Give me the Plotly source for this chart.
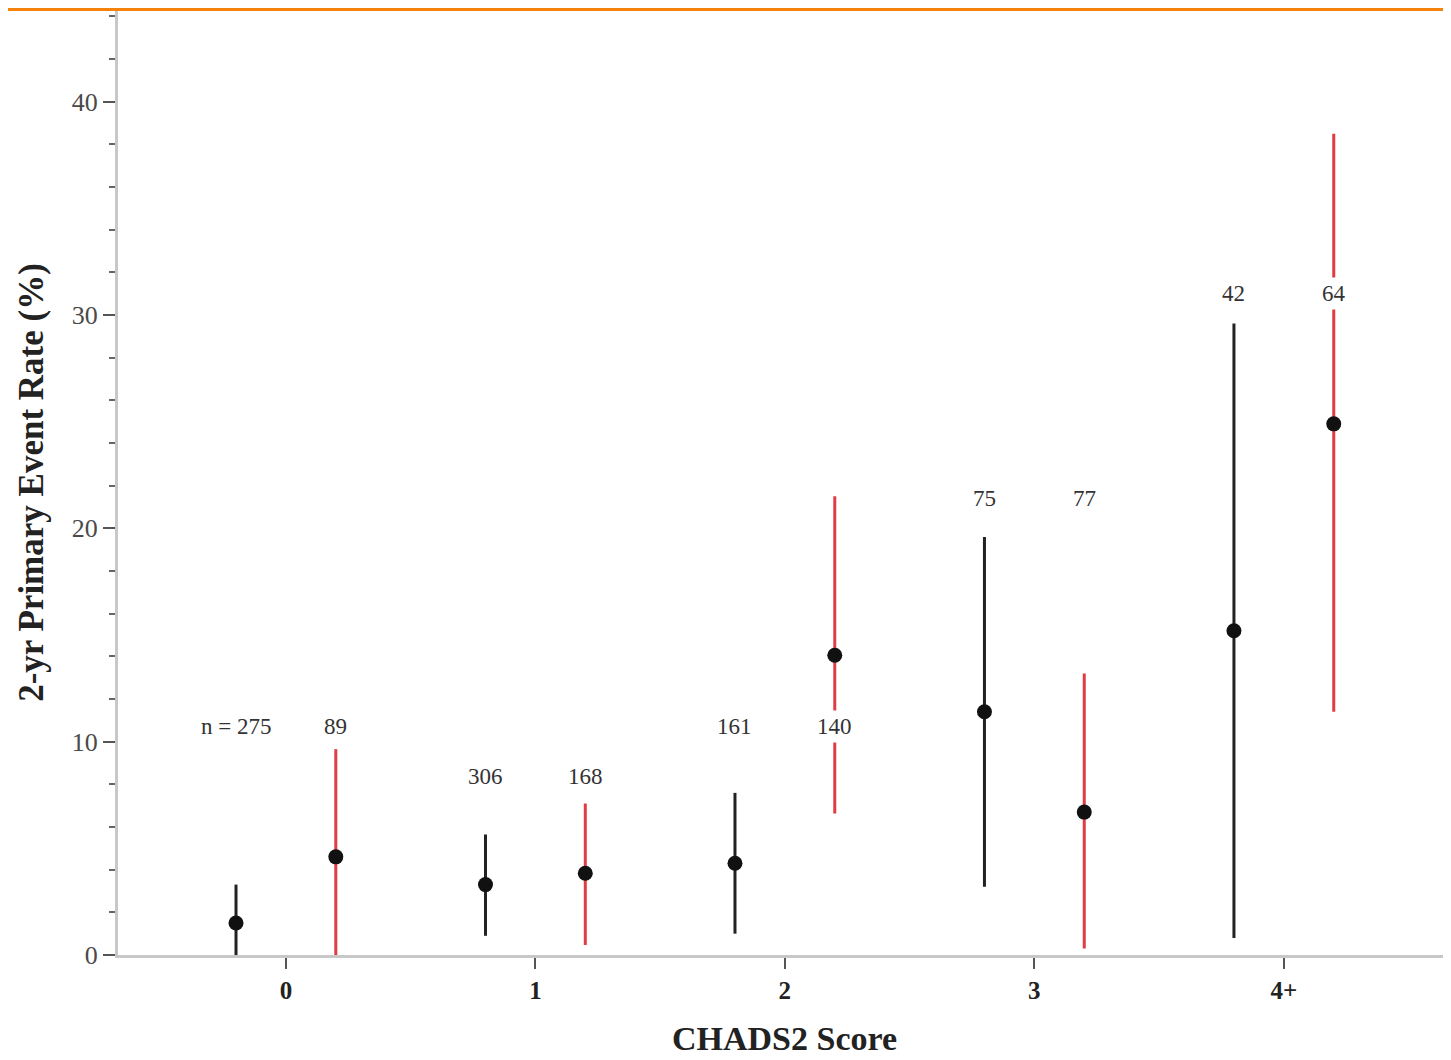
import plotly.graph_objects as go

categories = ["0", "1", "2", "3", "4+"]

black_rate = [1.5, 3.3, 4.3, 11.4, 15.2]
black_lo = [0.0, 0.9, 1.0, 3.2, 0.8]
black_hi = [3.3, 5.65, 7.6, 19.6, 29.6]
black_n = ["n = 275", "306", "161", "75", "42"]

red_rate = [4.6, 3.83, 14.05, 6.7, 24.9]
red_lo = [0.0, 0.47, 6.63, 0.3, 11.4]
red_hi = [9.65, 7.1, 21.5, 13.2, 38.5]
red_n = ["89", "168", "140", "77", "64"]

n_label_y = [10.7, 8.35, 10.7, 21.4, 31.0]

BLACK = "#111111"
RED = "#e03c44"
SERIF = "Liberation Serif, Times New Roman, serif"

idx = list(range(len(categories)))
xb = [i - 0.2 for i in idx]
xr = [i + 0.2 for i in idx]

fig = go.Figure()

fig.add_trace(go.Scatter(
    x=xr, y=red_rate, mode="markers",
    marker=dict(color=BLACK, size=15),
    error_y=dict(type="data", symmetric=False,
                 array=[h - r for h, r in zip(red_hi, red_rate)],
                 arrayminus=[r - l for r, l in zip(red_rate, red_lo)],
                 color=RED, thickness=3, width=0),
    showlegend=False, hoverinfo="skip"))

fig.add_trace(go.Scatter(
    x=xb, y=black_rate, mode="markers",
    marker=dict(color=BLACK, size=15),
    error_y=dict(type="data", symmetric=False,
                 array=[h - r for h, r in zip(black_hi, black_rate)],
                 arrayminus=[r - l for r, l in zip(black_rate, black_lo)],
                 color="#222222", thickness=3, width=0),
    showlegend=False, hoverinfo="skip"))

for i in idx:
    for xx, txt in ((xb[i], black_n[i]), (xr[i], red_n[i])):
        fig.add_annotation(x=xx, y=n_label_y[i], text=txt, showarrow=False,
                           font=dict(family=SERIF, size=23, color="#333333"),
                           bgcolor="white", borderpad=3)

# orange rule along the top edge of the page
fig.add_shape(type="rect", xref="paper", yref="paper",
              x0=-0.2, x1=1.0, y0=1 - 1 / 945, y1=1 + 2 / 945,
              fillcolor="#f7820a", line=dict(width=0), layer="above")

fig.update_layout(
    width=1443, height=1052,
    margin=dict(l=110, r=0, t=2, b=105, autoexpand=False),
    paper_bgcolor="white", plot_bgcolor="white",
    font=dict(family=SERIF, color="#222222"),
    xaxis=dict(
        range=[-0.673, 4.67],
        tickmode="array", tickvals=idx, ticktext=categories,
        tickfont=dict(family=SERIF, size=25, color="#222222", weight="bold"),
        ticks="outside", ticklen=11, tickwidth=2, tickcolor="#555555",
        showline=True, linecolor="#c8c8c8", linewidth=3,
        showgrid=False, zeroline=False,
        title=dict(text="<b>CHADS2 Score</b>",
                   font=dict(family=SERIF, size=34, color="#222222"),
                   standoff=24),
    ),
    yaxis=dict(
        range=[0, 44.3],
        tickmode="array", tickvals=[0, 10, 20, 30, 40],
        tickfont=dict(family=SERIF, size=26, color="#4a4a4a"),
        ticks="outside", ticklen=12, tickwidth=2, tickcolor="#555555",
        minor=dict(tickmode="linear", dtick=2, ticks="outside", ticklen=6,
                   tickwidth=2, tickcolor="#666666"),
        showline=True, linecolor="#c8c8c8", linewidth=3,
        showgrid=False, zeroline=False,
        title=dict(text="<b>2-yr Primary Event Rate (%)</b>",
                   font=dict(family=SERIF, size=35, color="#222222"),
                   standoff=18),
    ),
)

fig.write_html("out.html")
